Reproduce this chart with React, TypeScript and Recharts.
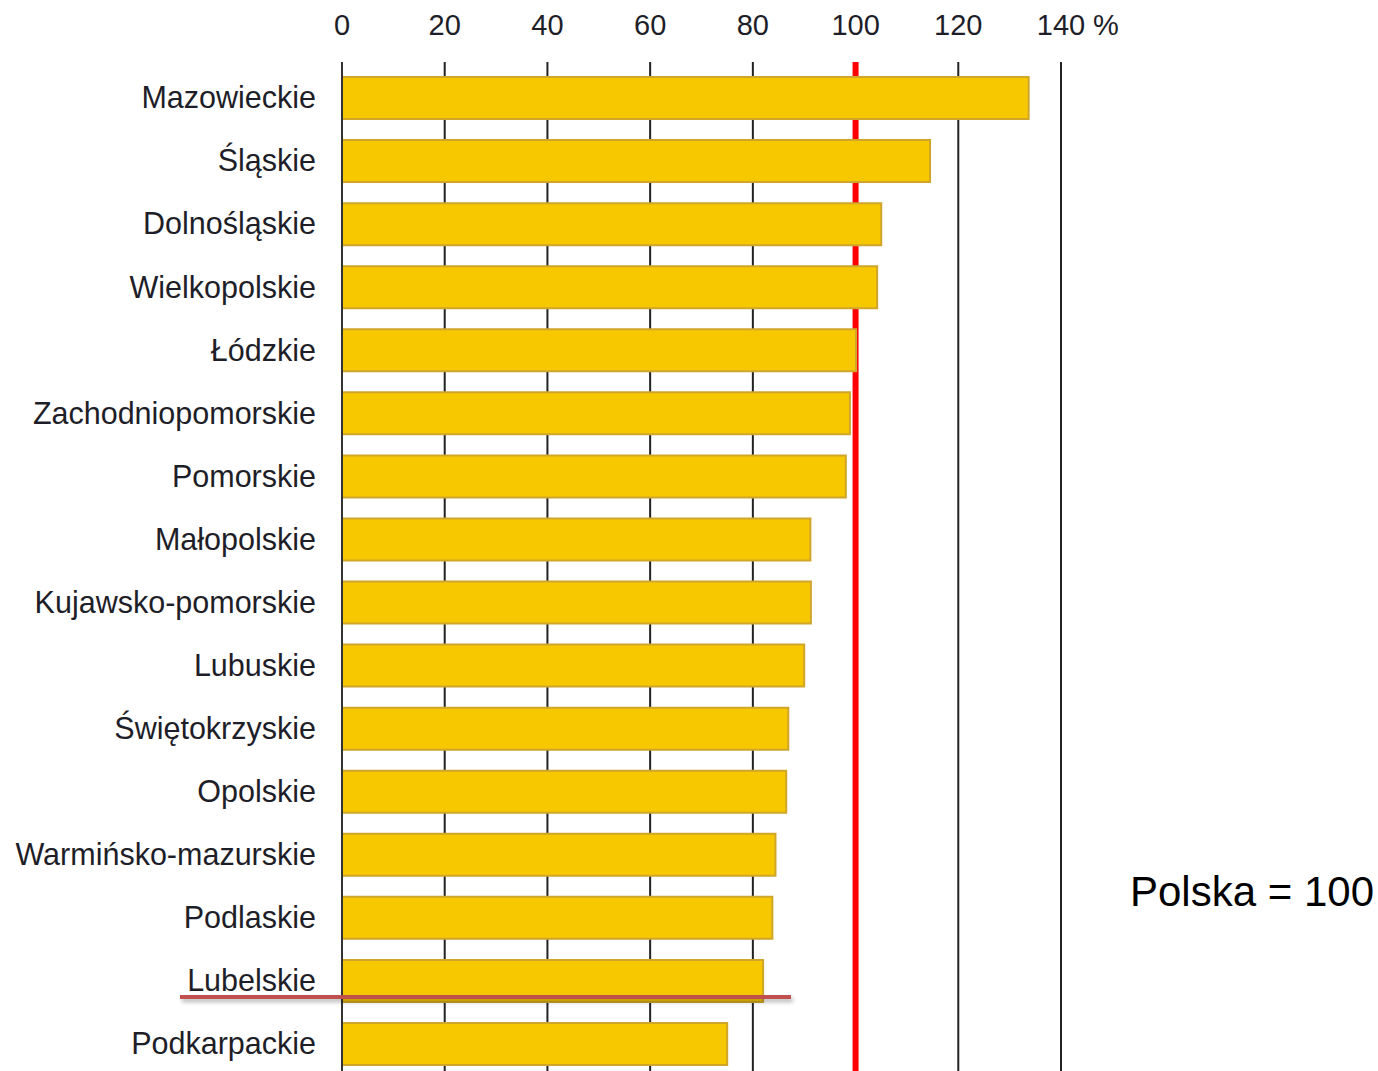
import { Bar, BarChart, CartesianGrid, XAxis, YAxis } from "recharts";

const REGIONS = [
  "Mazowieckie", "Śląskie", "Dolnośląskie", "Wielkopolskie", "Łódzkie",
  "Zachodniopomorskie", "Pomorskie", "Małopolskie", "Kujawsko-pomorskie",
  "Lubuskie", "Świętokrzyskie", "Opolskie", "Warmińsko-mazurskie",
  "Podlaskie", "Lubelskie", "Podkarpackie",
];

const VALUES = [
  133.7, 114.5, 105.0, 104.2, 100.1, 98.9, 98.1, 91.2, 91.3,
  90.0, 86.9, 86.5, 84.4, 83.8, 82.0, 75.0,
];

const TICKS = [0, 20, 40, 60, 80, 100, 120, 140];
const REFERENCE = 100;

const FONT = '"Liberation Sans", Arial, sans-serif';
const INK = "#1e1e28";

const data = REGIONS.map((name, i) => ({ name, value: VALUES[i] }));

function TopTick(props: any) {
  const { x, y, payload } = props;
  const last = payload.value === TICKS[TICKS.length - 1];
  return (
    <g>
      <text x={x} y={y} textAnchor="middle" fontSize={29} fontFamily={FONT} fill={INK}>
        {payload.value}
      </text>
      {last && (
        <text x={x + 32} y={y} textAnchor="start" fontSize={29} fontFamily={FONT} fill={INK}>
          %
        </text>
      )}
    </g>
  );
}

// grid line at 100 is the red "Polska" marker, drawn under the bars
function GridLine(props: any) {
  const { x1, y1, x2, y2, index } = props;
  const isRef = TICKS[index] === REFERENCE;
  return (
    <line
      key={`v-${index}`}
      x1={x1}
      y1={y1}
      x2={x2}
      y2={y2}
      stroke={isRef ? "#ff0000" : "#222"}
      strokeWidth={isRef ? 6 : 2}
    />
  );
}

export default function App() {
  return (
    <div style={{ position: "absolute", left: 0, top: 0, width: 1378, height: 1075, background: "#fff" }}>
      <BarChart
        width={1378}
        height={1075}
        data={data}
        layout="vertical"
        margin={{ top: 0, right: 317, bottom: 0, left: 0 }}
      >
        <CartesianGrid horizontal={false} vertical={GridLine} />
        <XAxis
          type="number"
          orientation="top"
          domain={[0, 140]}
          ticks={TICKS}
          height={62}
          axisLine={false}
          tickLine={false}
          tickSize={0}
          tickMargin={27}
          tick={<TopTick />}
        />
        <YAxis
          type="category"
          dataKey="name"
          width={342}
          padding={{ top: 4 }}
          axisLine={{ stroke: "#333", strokeWidth: 2 }}
          tickLine={false}
          tickSize={0}
          tickMargin={26}
          interval={0}
          tick={{ fontSize: 30.5, fontFamily: FONT, fill: INK }}
        />
        <Bar
          dataKey="value"
          fill="#f7c800"
          stroke="#cfa52a"
          strokeWidth={2}
          barSize={42}
          isAnimationActive={false}
        />
      </BarChart>
      <div
        style={{
          position: "absolute",
          left: 180,
          top: 995,
          width: 611,
          height: 4,
          background: "#c0504d",
          boxShadow: "2px 3px 4px rgba(0,0,0,0.3)",
        }}
      />
      <div
        style={{
          position: "absolute",
          left: 1130,
          top: 871,
          fontSize: 42,
          lineHeight: 1,
          fontFamily: FONT,
          color: "#000",
          whiteSpace: "nowrap",
        }}
      >
        Polska = 100
      </div>
    </div>
  );
}
